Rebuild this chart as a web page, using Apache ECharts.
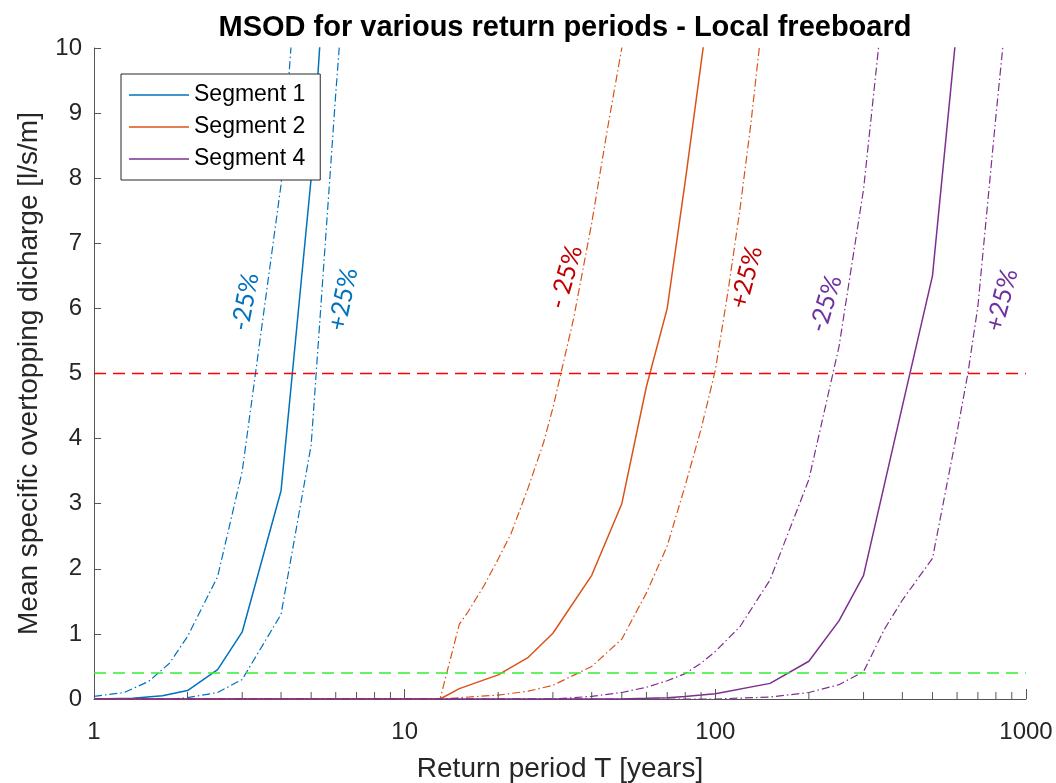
<!DOCTYPE html>
<html>
<head>
<meta charset="utf-8">
<script src="https://cdn.jsdelivr.net/npm/echarts@6/dist/echarts.min.js"></script>
<style>
  html, body { margin: 0; padding: 0; background: #fff; }
  #chart { width: 1056px; height: 783px; }
</style>
</head>
<body>
<div id="chart"></div>
<script>
// Return periods (years) and mean specific overtopping discharge (l/s/m)
const seg1T      = [1, 1.33, 1.66, 2, 2.5, 3, 4, 5, 6];
const seg1Val    = [0, 0.01, 0.05, 0.13, 0.45, 1.03, 3.2, 8.0, 13.8];
const seg1MinusT = [1, 1.25, 1.5, 1.75, 2, 2.5, 3, 4, 5];
const seg1Minus  = [0.04, 0.1, 0.27, 0.55, 0.96, 1.88, 3.5, 7.9, 14.3];
const seg1PlusT  = [1, 1.5, 1.8, 2, 2.5, 3, 4, 5, 6, 7];
const seg1Plus   = [0, 0, 0, 0.02, 0.1, 0.3, 1.3, 3.9, 9.3, 13.5];

const seg2T      = [1, 13, 15, 20, 25, 30, 40, 50, 60, 70, 80, 90, 100];
const seg2Val    = [0, 0, 0.16, 0.37, 0.64, 1.01, 1.9, 3.0, 4.8, 6.0, 7.95, 9.77, 11.4];
const seg2MinusT = [1, 13, 15, 16, 18, 20, 22, 25, 28, 30, 35, 40, 45, 50, 55];
const seg2Minus  = [0, 0, 1.15, 1.34, 1.74, 2.15, 2.54, 3.25, 3.94, 4.47, 5.85, 7.31, 8.77, 10.0, 11.1];
const seg2PlusT  = [1, 13, 15, 20, 25, 30, 40, 50, 60, 70, 80, 90, 100, 110, 120, 130, 140];
const seg2Plus   = [0, 0, 0.02, 0.06, 0.12, 0.21, 0.5, 0.92, 1.63, 2.35, 3.28, 4.15, 5.05, 6.28, 7.52, 8.82, 10.2];

const seg4T      = [1, 50, 60, 70, 80, 90, 100, 150, 200, 250, 300, 400, 500, 600];
const seg4Val    = [0, 0, 0.01, 0.02, 0.04, 0.06, 0.08, 0.24, 0.58, 1.2, 1.9, 4.5, 6.5, 10.36];
const seg4MinusT = [1, 30, 40, 50, 60, 70, 80, 90, 100, 120, 150, 200, 250, 300, 350];
const seg4Minus  = [0, 0, 0.04, 0.1, 0.18, 0.28, 0.39, 0.55, 0.73, 1.11, 1.83, 3.37, 5.41, 7.83, 10.85];
const seg4PlusT  = [1, 100, 150, 200, 250, 300, 350, 400, 500, 600, 650, 700, 800, 900];
const seg4Plus   = [0, 0, 0.03, 0.1, 0.22, 0.42, 1.07, 1.52, 2.16, 4.1, 5.0, 6.03, 8.95, 11.4];

// Discharge limits drawn as horizontal reference lines
const upperLimit = 5;
const lowerLimit = 0.4;

// Axis ticks
const xTickLabels = [1, 10, 100, 1000];
const xMinorTicks = [2, 3, 4, 5, 6, 7, 8, 9, 20, 30, 40, 50, 60, 70, 80, 90,
                     200, 300, 400, 500, 600, 700, 800, 900];

// Annotations for the +/-25% curves (anchor in data units)
const annoText = ['-25%', '+25%', '- 25%', '+25%', '-25%', '+25%'];
const annoT    = [3.07, 6.34, 33, 126, 227, 837];
const annoV    = [6.1, 6.14, 6.48, 6.48, 6.07, 6.13];

const C1 = '#0072BD', C2 = '#D95319', C4 = '#7E2F8E';
const annoColor = [C1, C1, '#C00000', '#C00000', '#7030A0', '#7030A0'];
const annoRot   = [79, 78, 74, 75, 73, 75];

const AXIS = '#555555';
const TXT = '#262626';
const DASHDOT = [8, 3, 1.5, 3];

function pairs(xs, ys) { return xs.map((x, i) => [x, ys[i]]); }

function curve(name, xs, ys, color, dashed) {
  return {
    name: name,
    type: 'line',
    data: pairs(xs, ys),
    symbol: 'none',
    clip: true,
    silent: true,
    lineStyle: { color: color, width: dashed ? 1.2 : 1.5, type: dashed ? DASHDOT : 'solid' },
    itemStyle: { color: color },
    animation: false
  };
}

function refLine(level, color) {
  return {
    name: 'limit ' + level,
    type: 'line',
    data: [[xTickLabels[0], level], [xTickLabels[xTickLabels.length - 1], level]],
    symbol: 'none',
    silent: true,
    lineStyle: { color: color, width: 1.6, type: [12, 7] },
    animation: false
  };
}

const chart = echarts.init(document.getElementById('chart'), null, { renderer: 'canvas' });

chart.setOption({
  animation: false,
  backgroundColor: '#ffffff',
  title: {
    text: 'MSOD for various return periods - Local freeboard',
    left: 560,
    top: 8,
    textAlign: 'center',
    textStyle: { fontFamily: 'Liberation Sans', fontSize: 29, fontWeight: 'bold', color: '#000' }
  },
  grid: { left: 94, right: 30, top: 48, bottom: 84, containLabel: false, outerBoundsMode: 'none' },
  legend: {
    data: ['Segment 1', 'Segment 2', 'Segment 4'],
    orient: 'vertical',
    left: 121,
    top: 74,
    icon: 'rect',
    itemWidth: 60,
    itemHeight: 1.6,
    itemGap: 6,
    padding: [8, 15, 8, 8],
    borderColor: '#262626',
    borderWidth: 1,
    backgroundColor: '#ffffff',
    selectedMode: false,
    textStyle: { fontFamily: 'Liberation Sans', fontSize: 23, lineHeight: 26, color: '#000' }
  },
  xAxis: {
    type: 'log',
    logBase: 10,
    min: xTickLabels[0],
    max: xTickLabels[xTickLabels.length - 1],
    name: 'Return period T [years]',
    nameLocation: 'middle',
    nameGap: 56,
    nameTextStyle: { fontFamily: 'Liberation Sans', fontSize: 28, color: TXT },
    axisLine: { show: true, lineStyle: { color: AXIS, width: 1 } },
    axisTick: { show: true, inside: true, length: 10, lineStyle: { color: AXIS } },
    axisLabel: {
      fontFamily: 'Liberation Sans', fontSize: 24, color: TXT, margin: 21,
      formatter: v => String(Math.round(v))
    },
    splitLine: { show: false },
    minorTick: { show: false }
  },
  yAxis: {
    type: 'value',
    min: 0,
    max: 10,
    interval: 1,
    name: 'Mean specific overtopping dicharge [l/s/m]',
    nameLocation: 'middle',
    nameGap: 51,
    nameRotate: 90,
    nameTextStyle: { fontFamily: 'Liberation Sans', fontSize: 28, color: TXT },
    axisLine: { show: true, lineStyle: { color: AXIS, width: 1 } },
    axisTick: { show: true, inside: true, length: 7, lineStyle: { color: AXIS } },
    axisLabel: { fontFamily: 'Liberation Sans', fontSize: 24, color: TXT, margin: 12 },
    splitLine: { show: false }
  },
  series: [
    curve('Segment 1', seg1T, seg1Val, C1, false),
    curve('Segment 1 -25%', seg1MinusT, seg1Minus, C1, true),
    curve('Segment 1 +25%', seg1PlusT, seg1Plus, C1, true),
    curve('Segment 2', seg2T, seg2Val, C2, false),
    curve('Segment 2 -25%', seg2MinusT, seg2Minus, C2, true),
    curve('Segment 2 +25%', seg2PlusT, seg2Plus, C2, true),
    curve('Segment 4', seg4T, seg4Val, C4, false),
    curve('Segment 4 -25%', seg4MinusT, seg4Minus, C4, true),
    curve('Segment 4 +25%', seg4PlusT, seg4Plus, C4, true),
    refLine(upperLimit, '#ff0000'),
    refLine(lowerLimit, '#33f033'),
    {
      // minor ticks of the logarithmic axis
      name: 'minor ticks',
      type: 'custom',
      silent: true,
      clip: false,
      data: xMinorTicks.map(v => [v, 0]),
      renderItem: function (params, api) {
        const p = api.coord([api.value(0), 0]);
        return {
          type: 'line',
          shape: { x1: p[0], y1: p[1], x2: p[0], y2: p[1] - 7 },
          style: { stroke: AXIS, lineWidth: 1 }
        };
      },
      z: 5
    },
    {
      // rotated +/-25% labels next to the curves
      name: 'annotations',
      type: 'custom',
      silent: true,
      clip: false,
      data: annoT.map((t, i) => [t, annoV[i]]),
      renderItem: function (params, api) {
        const i = params.dataIndex;
        const p = api.coord([api.value(0), api.value(1)]);
        return {
          type: 'text',
          x: p[0],
          y: p[1],
          rotation: annoRot[i] * Math.PI / 180,
          style: {
            text: annoText[i],
            fill: annoColor[i],
            fontFamily: 'Lato',
            fontSize: 25,
            align: 'center',
            verticalAlign: 'middle'
          }
        };
      },
      z: 6
    }
  ]
});
</script>
</body>
</html>
